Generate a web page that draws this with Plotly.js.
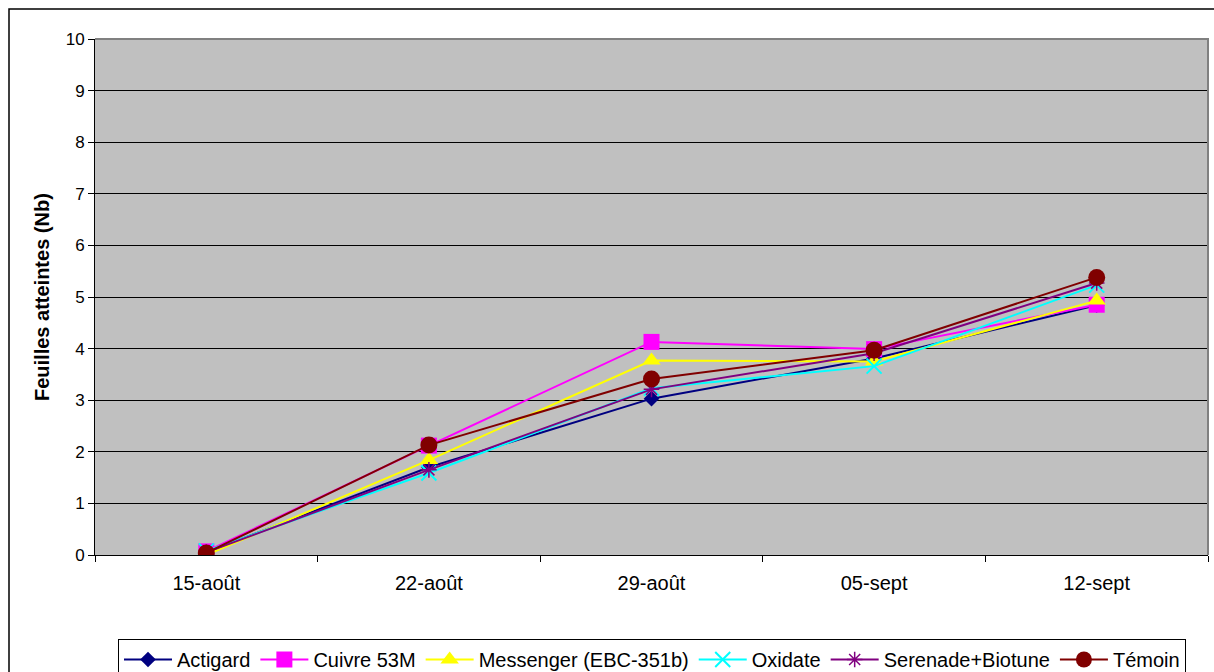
<!DOCTYPE html>
<html>
<head>
<meta charset="utf-8">
<script src="https://cdn.plot.ly/plotly-3.0.1.min.js"></script>
<style>
html,body{margin:0;padding:0;background:#fff;}
#chart{width:1214px;height:672px;}
</style>
</head>
<body>
<div id="chart"></div>
<script>
const categories = ["15-août", "22-août", "29-août", "05-sept", "12-sept"];
const actigard  = [0.05, 1.70, 3.03, 3.81, 4.84];
const cuivre    = [0.07, 2.12, 4.13, 3.99, 4.85];
const messenger = [0.00, 1.84, 3.77, 3.75, 4.93];
const oxidate   = [0.08, 1.59, 3.23, 3.66, 5.23];
const serenade  = [0.05, 1.65, 3.21, 3.91, 5.27];
const temoin    = [0.04, 2.13, 3.41, 3.97, 5.38];
const yTicks = [0,1,2,3,4,5,6,7,8,9,10];

const font = "Liberation Sans, Arial, sans-serif";

function tr(name, y, color, symbol, size, mline) {
  const t = {
    type: "scatter", mode: "lines+markers", name: name,
    x: categories, y: y,
    line: {color: color, width: 2},
    marker: {symbol: symbol, size: size, color: color}
  };
  if (mline) t.marker.line = {color: color, width: mline};
  return t;
}

const data = [
  tr("Actigard", actigard, "#000080", "diamond", 12),
  tr("Cuivre 53M", cuivre, "#FF00FF", "square", 16),
  tr("Messenger (EBC-351b)", messenger, "#FFFF00", "triangle-up", 16),
  tr("Oxidate", oxidate, "#00FFFF", "x-thin-open", 15, 2),
  tr("Serenade+Biotune", serenade, "#800080", "asterisk-open", 13, 1.5),
  tr("Témoin", temoin, "#800000", "circle", 17)
];

const W = 1113, H = 516;
const layout = {
  width: 1214, height: 672,
  margin: {l: 95, r: 6, t: 39, b: 117, pad: 0, autoexpand: false},
  paper_bgcolor: "#FFFFFF",
  plot_bgcolor: "#C0C0C0",
  font: {family: font, color: "#000"},
  showlegend: true,
  legend: {
    orientation: "h", x: (118-95)/W, xanchor: "left",
    y: (555-639)/H, yanchor: "top",
    bordercolor: "#000", borderwidth: 1, bgcolor: "#FFFFFF",
    font: {family: font, size: 20, color: "#000"},
    itemwidth: 48, traceorder: "normal"
  },
  xaxis: {
    type: "category",
    range: [-0.5, 4.5],
    showgrid: false, zeroline: false,
    showline: true, linecolor: "#000", linewidth: 1,
    ticks: "outside", ticklen: 6, tickcolor: "#000", tickson: "boundaries",
    ticklabelstandoff: 10,
    tickfont: {family: font, size: 20, color: "#000"},
    fixedrange: true
  },
  yaxis: {
    range: [0, 10], tickvals: yTicks, ticktext: yTicks.map(String),
    showgrid: true, gridcolor: "#000", gridwidth: 1,
    zeroline: false,
    showline: true, linecolor: "#000", linewidth: 1,
    ticks: "outside", ticklen: 6, tickcolor: "#000",
    tickfont: {family: font, size: 17, color: "#000"},
    fixedrange: true
  },
  annotations: [{
    xref: "paper", yref: "paper", x: (42-95)/W, y: 0.5,
    xanchor: "center", yanchor: "middle", textangle: -90, showarrow: false,
    text: "<b>Feuilles atteintes (Nb)</b>",
    font: {family: font, size: 20, color: "#000"}
  }],
  shapes: [
    {type: "path", xref: "paper", yref: "paper", layer: "above",
     path: "M0,1 L1,1 L1,0", line: {color: "#808080", width: 2}},
    {type: "path", xref: "paper", yref: "paper", layer: "above",
     path: "M" + ((9-95)/W) + "," + (-0.3) + " L" + ((9-95)/W) + "," + (1 + 30/H) + " L1.02," + (1 + 30/H),
     line: {color: "#000", width: 1.5}}
  ]
};

Plotly.newPlot("chart", data, layout, {displayModeBar: false, staticPlot: true});
</script>
</body>
</html>
